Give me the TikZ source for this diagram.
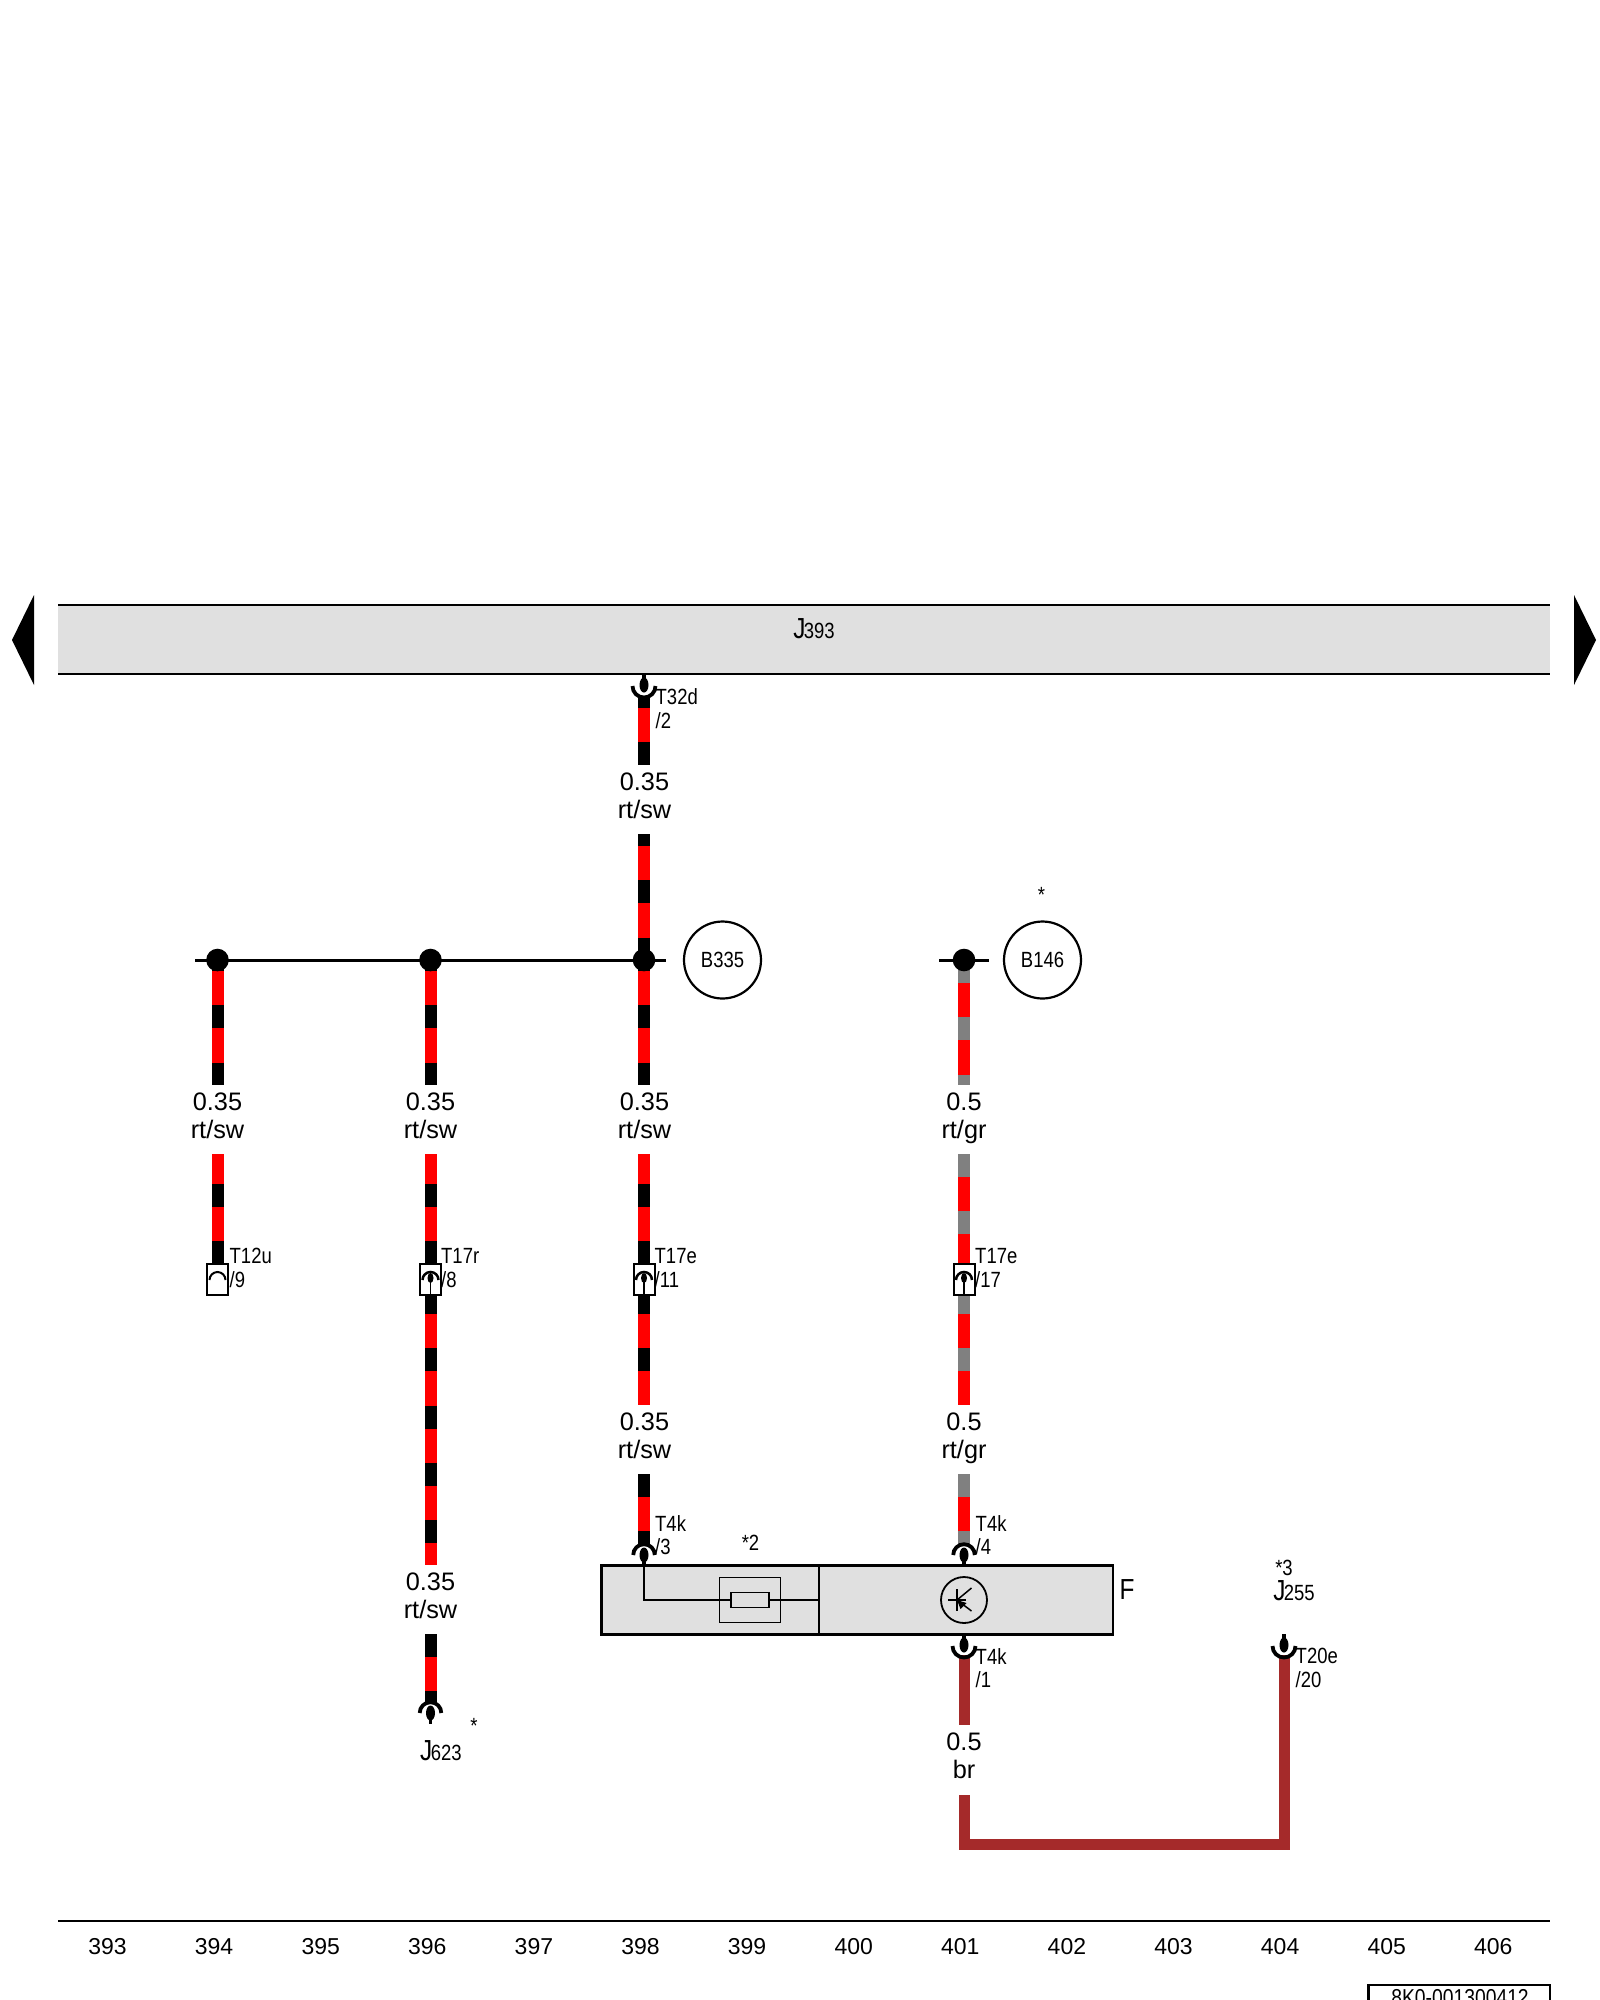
\documentclass[tikz,border=0pt]{standalone}
\usepackage{fontspec}
\setmainfont{Liberation Sans}
\newfontfamily\narrowfont[FakeStretch=0.84]{Liberation Sans}
\usetikzlibrary{positioning}

\definecolor{panelgray}{RGB}{224,224,224}
\definecolor{wiregray}{RGB}{128,128,128}
\definecolor{wirebrown}{RGB}{165,42,42}

\newcommand{\bigJ}{{\fontsize{29}{29}\selectfont J}\kern-1.5pt}

\tikzset{
	x=1pt, y=-1pt,
	wire/.style={line width=12pt},
	rtsw/.style={wire,draw=red,postaction={draw=black,dash pattern=on 23pt off 34.3pt,dash phase=#1pt}},
	rtgr/.style={wire,draw=red,postaction={draw=wiregray,dash pattern=on 23pt off 34.3pt,dash phase=#1pt}},
	brwire/.style={line width=11pt,draw=wirebrown},
	sizelabel/.style={font=\fontsize{25.3}{28}\selectfont,align=center,inner sep=0pt},
	pinlabel/.style={font=\fontsize{22}{23.5}\narrowfont,align=left,anchor=west,inner sep=0pt},
	numlabel/.style={font=\fontsize{23}{24}\selectfont,inner sep=0pt},
	partlabel/.style={font=\fontsize{22}{24}\narrowfont,inner sep=0pt},
	junction/.style={circle,fill=black,inner sep=0pt,minimum size=22.6pt},
	sensor/.style={circle,draw=black,line width=2.2pt,inner sep=0pt,minimum size=77pt,font=\fontsize{22}{24}\narrowfont},
	panel/.style={draw=black,fill=panelgray,line width=2.5pt,inner sep=0pt},
	thinbox/.style={draw=black,line width=1.8pt,inner sep=0pt},
	connup/.pic={
		\fill (0,0) ellipse [x radius=4.5pt,y radius=7.5pt];
		\draw[line width=3.5pt] (0,0) -- (0,11);
		\draw[line width=3.8pt] (-10.8,0) arc (180:0:10.8pt);
	},
	conndown/.pic={
		\fill (0,-1) ellipse [x radius=4.5pt,y radius=7.5pt];
		\draw[line width=3.5pt] (0,-1) -- (0,-12);
		\draw[line width=3.8pt] (-11.5,0) arc (180:360:11.5pt);
	},
	connbox/.pic={
		\draw[line width=2pt,fill=white] (-10.5,-16) rectangle (10.5,15);
		\fill (0,-2) ellipse [x radius=3pt,y radius=5pt];
		\draw[line width=1.5pt] (0,-2) -- (0,15);
		\draw[line width=2.5pt] (-8,0) arc (180:0:8pt);
	},
	connopen/.pic={
		\draw[line width=2pt,fill=white] (-10.5,-16) rectangle (10.5,15);
		\draw[line width=2pt] (-8,0) arc (180:0:8pt);
	},
}

\begin{document}
\begin{tikzpicture}
\useasboundingbox (0,0) rectangle (1600,2000);

% J393 bar
\fill[panelgray] (58,605) rectangle (1550,674);
\draw[line width=2.5pt] (58,605) -- (1550,605) (58,674) -- (1550,674);
\node[partlabel] (j393) at (814,629) {\bigJ393};
\fill (34,595) -- (12,640) -- (34,685) -- cycle;
\fill (1574,595) -- (1596,640) -- (1574,685) -- cycle;

% size labels
\node[sizelabel] (lab1) at (644.5,796) {0.35\\rt/sw};
\node[sizelabel] (lab2) at (217.5,1116) {0.35\\rt/sw};
\node[sizelabel] (lab3) at (430.5,1116) {0.35\\rt/sw};
\node[sizelabel] (lab4) at (644.5,1116) {0.35\\rt/sw};
\node[sizelabel] (lab5) at (964,1118.5) {0.5\\rt/gr};
\node[sizelabel] (lab6) at (644.5,1436) {0.35\\rt/sw};
\node[sizelabel] (lab7) at (964,1438.5) {0.5\\rt/gr};
\node[sizelabel] (lab8) at (430.5,1596) {0.35\\rt/sw};
\node[sizelabel] (lab9) at (964,1755.5) {0.5\\br};

% wire ends
\foreach \name/\xx in {a/217.5,b/430.5,c/644,d/964} {
	\coordinate (\name1) at (\xx,960);
	\coordinate (\name2) at (\xx,1085);
	\coordinate (\name3) at (\xx,1154);
	\coordinate (\name4) at (\xx,1280);
	\coordinate (\name5) at (\xx,1405);
	\coordinate (\name6) at (\xx,1474);
	\coordinate (\name7) at (\xx,1546);
}
\coordinate (c8) at (644,698);
\coordinate (c9) at (644,765);
\coordinate (c10) at (644,834);
\coordinate (b5) at (430.5,1565);
\coordinate (b6) at (430.5,1634);
\coordinate (b7) at (430.5,1704);
\coordinate (d8) at (964,1655);
\coordinate (d9) at (964,1725);
\coordinate (d10) at (964,1795);
\coordinate (e1) at (1284,1844);
\coordinate (e2) at (1284,1655);

% wires
\draw[rtsw=13] (c8) -- (c9);
\draw[rtsw=11] (c10) -- (c1);
\foreach \name in {a,b,c} {
	\draw[rtsw=12] (\name1) -- (\name2);
	\draw[rtsw=27.3] (\name3) -- (\name4);
}
\draw[rtsw=46.3] (c4) -- (c5);
\draw[rtsw=0] (c6) -- (c7);
\draw[rtsw=46.3] (b4) -- (b5);
\draw[rtsw=0] (b6) -- (b7);
\draw[rtgr=0] (d1) -- (d2);
\draw[rtgr=0] (d3) -- (d4);
\draw[rtgr=46.3] (d4) -- (d5);
\draw[rtgr=0] (d6) -- (d7);
\draw[brwire] (d8) -- (d9);
\draw[brwire,line join=miter] (d10) |- (e1) -- (e2);

% bus lines and junctions
\coordinate (busl) at (195,960);
\coordinate (busr) at (665.5,960);
\coordinate (busm) at (939,960);
\coordinate (busn) at (988.5,960);
\draw[line width=3pt] (busl) -- (busr);
\draw[line width=3pt] (busm) -- (busn);
\node[junction] (dot1) at (a1) {};
\node[junction] (dot2) at (b1) {};
\node[junction] (dot3) at (c1) {};
\node[junction] (dot4) at (d1) {};

% sensors
\node[sensor] (b335) at (722.5,960) {B335};
\node[sensor] (b146) at (1042.5,960) {B146};
\node[partlabel] (star1) at (1041.5,895) {*};

% module F
\node[panel,minimum width=511.5pt,minimum height=69pt] (modf) at (857,1600) {};
\coordinate (divtop) at (819,1566);
\coordinate (divbot) at (819,1634);
\coordinate (divmid) at (819,1600);
\coordinate (fusein) at (644,1566);
\draw[line width=1.5pt] (divtop) -- (divbot);
\node[thinbox,minimum width=61pt,minimum height=45pt] (fusebox) at (750,1600) {};
\node[thinbox,minimum width=38.5pt,minimum height=15pt] (fuse) at (750,1600) {};
\draw[line width=1.5pt] (fusein) |- (fuse.west);
\draw[line width=1.5pt] (fuse.east) -- (divmid);
\node[thinbox,circle,minimum size=46pt] (trans) at (964,1600) {};
\coordinate (base) at (957,1600);
\coordinate (coll) at (971.5,1588);
\coordinate (emit) at (971.5,1611);
\draw[line width=1.5pt] (948,1600) -- (966,1600);
\draw[line width=1.5pt] (957,1589) -- (957,1611);
\draw[line width=1.5pt] (base) -- (coll);
\draw[line width=1.5pt] (emit) -- (base);
\fill (957,1600) -- (966.5,1603) -- (960.5,1609) -- cycle;
\node[font=\fontsize{29}{29}\narrowfont,inner sep=0pt] (flabel) at (1127,1590) {F};
\node[partlabel] (star2) at (750.5,1543) {*2};

% connectors
\pic at (644,686) {conndown};
\pic at (217.5,1280) {connopen};
\pic at (430.5,1280) {connbox};
\pic at (644,1280) {connbox};
\pic at (964,1280) {connbox};
\pic at (644,1555) {connup};
\pic at (964,1555) {connup};
\pic at (964,1646) {conndown};
\pic at (1284,1646) {conndown};
\pic at (430.5,1713) {connup};

% pin labels
\node[pinlabel] (p1) at (655.5,708.5) {T32d\\/2};
\node[pinlabel] (p2) at (229.5,1268) {T12u\\/9};
\node[pinlabel] (p3) at (441,1268) {T17r\\/8};
\node[pinlabel] (p4) at (654.5,1268) {T17e\\/11};
\node[pinlabel] (p5) at (975,1268) {T17e\\/17};
\node[pinlabel] (p6) at (655,1535) {T4k\\/3};
\node[pinlabel] (p7) at (975.5,1535) {T4k\\/4};
\node[pinlabel] (p8) at (975.5,1668) {T4k\\/1};
\node[pinlabel] (p9) at (1295.5,1668) {T20e\\/20};

% part labels
\node[partlabel] (j255) at (1294,1591) {\bigJ255};
\node[partlabel] (star3) at (1284,1568) {*3};
\node[partlabel] (j623) at (441,1751) {\bigJ623};
\node[partlabel] (star4) at (474,1726) {*};

% bottom ruler
\coordinate (rulel) at (58,1921);
\coordinate (ruler) at (1550,1921);
\draw[line width=2.5pt] (rulel) -- (ruler);
\foreach \num [count=\i from 0] in {393,...,406} {
	\node[numlabel] (n\num) at (107.5+106.6*\i,1946.5) {\num};
}
\draw[line width=2.5pt] (1368.5,1985) rectangle (1550,2015);
\node[partlabel,font=\fontsize{23}{24}\narrowfont] (docno) at (1460,1997.5) {8K0-001300412};
\end{tikzpicture}
\end{document}
